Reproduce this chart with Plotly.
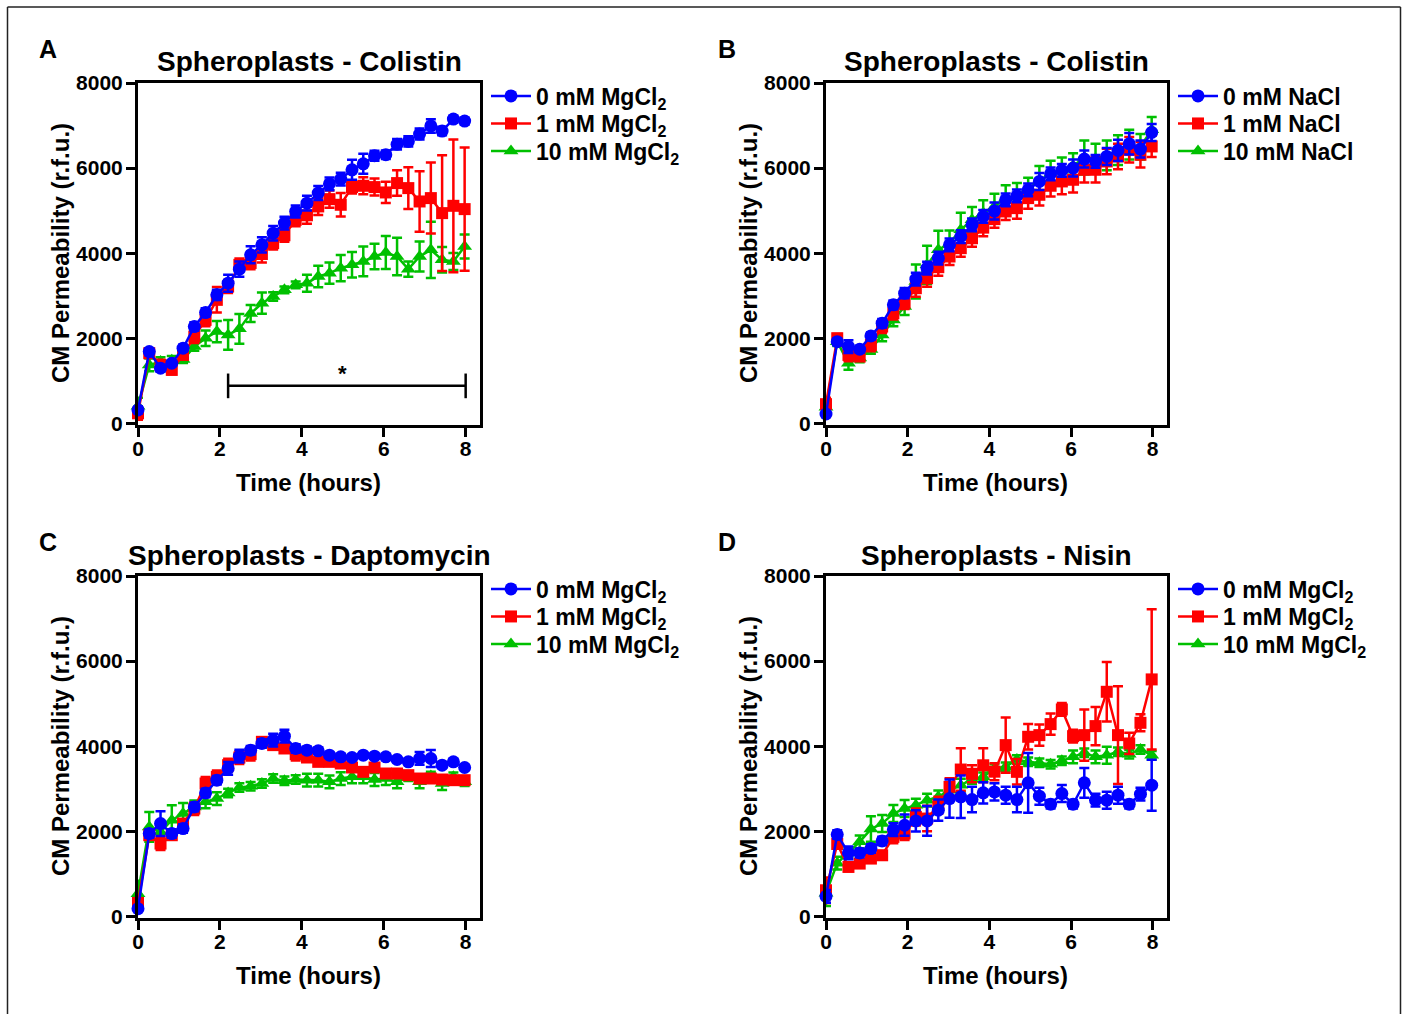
import plotly.graph_objects as go

W, H = 1404, 1014

# ---------------- data ----------------
time_h = [0, 0.275, 0.55, 0.825, 1.1, 1.375, 1.65, 1.925, 2.2, 2.475, 2.75, 3.025, 3.3, 3.575, 3.85,
          4.125, 4.4, 4.675, 4.95, 5.225, 5.5, 5.775, 6.05, 6.325, 6.6, 6.875, 7.15, 7.425, 7.7, 7.975]

# Panel A - Colistin, MgCl2
A_0 = [314, 1686, 1294, 1412, 1765, 2275, 2604, 3020, 3294, 3624, 3961, 4196, 4470, 4706, 4980,
       5176, 5412, 5631, 5741, 5960, 6100, 6290, 6314, 6560, 6627, 6800, 6990, 6870, 7153, 7105]
A_0_err = [80, 80, 80, 60, 80, 100, 100, 120, 200, 180, 200, 180, 170, 150, 140,
           175, 165, 150, 150, 235, 235, 120, 100, 125, 120, 130, 157, 100, 80, 80]
A_1 = [235, 1647, 1372, 1255, 1608, 2039, 2431, 2902, 3216, 3725, 3770, 3980, 4235, 4420, 4784,
       4890, 5098, 5270, 5137, 5553, 5584, 5553, 5427, 5647, 5529, 5215, 5294, 4941, 5113, 5035]
A_1_err = [150, 100, 120, 100, 100, 150, 150, 300, 150, 150, 150, 200, 150, 150, 150,
           200, 200, 200, 275, 150, 200, 200, 250, 300, 490, 713, 835, 1360, 1560, 1450]
A_10 = [400, 1372, 1450, 1480, 1500, 1803, 2000, 2157, 2078, 2220, 2580, 2823, 2980, 3137, 3255,
        3294, 3451, 3529, 3647, 3725, 3804, 3921, 4016, 3921, 3623, 3921, 4078, 3843, 3804, 4157]
A_10_err = [200, 150, 100, 100, 80, 100, 180, 250, 350, 350, 200, 250, 100, 80, 80,
            200, 250, 250, 310, 300, 350, 300, 390, 440, 180, 350, 660, 300, 200, 280]

# Panel B - Colistin, NaCl
B_0 = [219, 1920, 1803, 1741, 2054, 2353, 2784, 3059, 3388, 3647, 3882, 4195, 4391, 4666, 4862,
       4990, 5254, 5348, 5490, 5686, 5866, 5944, 6000, 6212, 6156, 6274, 6415, 6572, 6447, 6838]
B_0_err = [50, 80, 150, 80, 80, 100, 100, 120, 150, 150, 150, 150, 150, 150, 150,
           200, 150, 150, 150, 200, 150, 150, 200, 200, 150, 200, 250, 250, 200, 200]
B_1 = [450, 2000, 1607, 1568, 1843, 2274, 2588, 2839, 3176, 3411, 3670, 3921, 4117, 4350, 4600,
       4800, 4980, 5058, 5294, 5372, 5584, 5686, 5725, 5960, 5960, 6156, 6274, 6431, 6313, 6509]
B_1_err = [150, 100, 150, 100, 150, 150, 150, 150, 200, 200, 200, 200, 200, 200, 200,
           200, 200, 250, 250, 250, 250, 300, 300, 300, 300, 300, 300, 300, 300, 250]
B_10 = [380, 1920, 1411, 1537, 1733, 2078, 2431, 2745, 3333, 3725, 4078, 4235, 4548, 4784, 4941,
        5098, 5294, 5350, 5520, 5700, 5870, 5950, 6050, 6250, 6220, 6300, 6420, 6550, 6500, 6900]
B_10_err = [200, 100, 150, 100, 100, 150, 150, 200, 400, 450, 450, 300, 400, 300, 300,
            300, 300, 300, 250, 350, 300, 300, 300, 400, 350, 350, 350, 350, 300, 300]

# Panel C - Daptomycin, MgCl2
C_0 = [180, 1945, 2180, 1945, 2063, 2572, 2901, 3200, 3475, 3765, 3906, 4063, 4141, 4235, 3945,
       3906, 3890, 3788, 3749, 3733, 3788, 3765, 3749, 3686, 3631, 3710, 3710, 3553, 3631, 3498]
C_0_err = [50, 100, 290, 100, 100, 100, 100, 100, 150, 150, 100, 100, 150, 150, 100,
           80, 80, 60, 60, 60, 60, 60, 60, 60, 60, 150, 200, 60, 60, 60]
C_1 = [314, 1906, 1710, 1906, 2180, 2533, 3122, 3278, 3553, 3733, 3812, 4102, 4024, 3945, 3812,
       3733, 3631, 3631, 3592, 3498, 3396, 3498, 3357, 3357, 3318, 3239, 3239, 3216, 3200, 3200]
C_1_err = [100, 100, 150, 100, 100, 150, 150, 150, 150, 150, 150, 100, 100, 100, 150,
           100, 80, 80, 80, 80, 80, 80, 80, 80, 80, 80, 80, 80, 80, 80]
C_10 = [533, 2102, 1984, 2259, 2415, 2572, 2690, 2768, 2901, 3027, 3059, 3122, 3239, 3184, 3216,
        3200, 3200, 3161, 3239, 3278, 3278, 3216, 3239, 3161, 3278, 3161, 3300, 3122, 3278, 3161]
C_10_err = [300, 350, 250, 350, 250, 150, 150, 150, 100, 100, 100, 100, 100, 100, 100,
            150, 150, 150, 150, 150, 150, 150, 150, 150, 100, 150, 100, 150, 100, 100]

# Panel D - Nisin, MgCl2
D_0 = [470, 1922, 1490, 1490, 1592, 1772, 2039, 2141, 2243, 2243, 2494, 2768, 2808, 2745, 2902,
       2925, 2847, 2745, 3137, 2823, 2635, 2886, 2635, 3137, 2729, 2729, 2847, 2635, 2870, 3082]
D_0_err = [150, 100, 150, 100, 100, 100, 150, 250, 250, 350, 250, 450, 500, 300, 250,
           200, 200, 300, 700, 200, 100, 200, 100, 350, 150, 200, 200, 100, 150, 600]
D_1 = [612, 1700, 1161, 1239, 1357, 1435, 1867, 1945, 2337, 2298, 2612, 3043, 3450, 3350, 3550,
       3400, 4024, 3396, 4220, 4259, 4518, 4863, 4235, 4259, 4471, 5278, 4259, 4063, 4549, 5569]
D_1_err = [300, 100, 100, 80, 80, 100, 150, 150, 200, 300, 200, 200, 500, 200, 400,
           200, 650, 300, 300, 250, 250, 150, 150, 600, 450, 700, 1150, 250, 200, 1650]
D_10 = [540, 1250, 1500, 1750, 2050, 2180, 2415, 2533, 2612, 2729, 2808, 2965, 3082, 3216, 3278,
        3475, 3514, 3686, 3631, 3608, 3576, 3655, 3749, 3843, 3749, 3788, 3867, 3812, 3922, 3788]
D_10_err = [300, 150, 100, 150, 300, 200, 200, 200, 150, 150, 150, 150, 150, 100, 100,
            100, 100, 100, 100, 100, 100, 100, 150, 100, 150, 200, 100, 100, 100, 100]

mg_names = ["0 mM MgCl<sub>2</sub>", "1 mM MgCl<sub>2</sub>", "10 mM MgCl<sub>2</sub>"]
na_names = ["0 mM NaCl", "1 mM NaCl", "10 mM NaCl"]

x_ticks = [0, 2, 4, 6, 8]
y_ticks = [0, 2000, 4000, 6000, 8000]

# ---------------- styles ----------------
FONT = "Liberation Sans, Arial, sans-serif"
BLUE, RED, GREEN = "#0000FF", "#FF0000", "#00C000"

# pixel boxes of the four plot areas (left, right, top, bottom)
boxes = {
    "A": (138, 480, 83, 425),
    "B": (826, 1167, 83, 425),
    "C": (138, 480, 576, 918),
    "D": (826, 1167, 576, 918),
}

panels = [
    ("A", "Spheroplasts - Colistin", mg_names, (A_0, A_0_err), (A_1, A_1_err), (A_10, A_10_err)),
    ("B", "Spheroplasts - Colistin", na_names, (B_0, B_0_err), (B_1, B_1_err), (B_10, B_10_err)),
    ("C", "Spheroplasts - Daptomycin", mg_names, (C_0, C_0_err), (C_1, C_1_err), (C_10, C_10_err)),
    ("D", "Spheroplasts - Nisin", mg_names, (D_0, D_0_err), (D_1, D_1_err), (D_10, D_10_err)),
]

fig = go.Figure()
layout = dict(
    template="none",
    width=W, height=H, margin=dict(l=0, r=0, t=0, b=0, pad=0, autoexpand=False),
    paper_bgcolor="white", plot_bgcolor="white",
    font=dict(family=FONT, color="black"),
    showlegend=True,
)
annotations = []
shapes = []


def px(xp):
    return xp / W


def py(yp):
    return 1 - yp / H


leg_count = 0
for i, (letter, title, names, s0, s1, s10) in enumerate(panels):
    idx = i + 1
    xa = "x" if idx == 1 else f"x{idx}"
    ya = "y" if idx == 1 else f"y{idx}"
    l, r, t, b = boxes[letter]
    axis_common = dict(
        showline=True, linewidth=3, linecolor="black", mirror=True,
        ticks="outside", ticklen=9, tickwidth=3, tickcolor="black",
        showgrid=False, zeroline=False, automargin=False,
        tickfont=dict(family=FONT, size=21, color="black", weight="bold"),
    )
    layout["xaxis" if idx == 1 else f"xaxis{idx}"] = dict(
        axis_common, domain=[px(l), px(r)], range=[0, 8.35],
        tickvals=x_ticks, anchor=ya, ticklabelstandoff=-6,
    )
    layout["yaxis" if idx == 1 else f"yaxis{idx}"] = dict(
        axis_common, domain=[py(b), py(t)], range=[-40, 8000],
        tickvals=y_ticks, anchor=xa, ticklabelstandoff=-1,
    )
    series = [
        (s10, names[2], GREEN, "triangle-up", 13, 2),
        (s1, names[1], RED, "square", 12, 1),
        (s0, names[0], BLUE, "circle", 13, 0),
    ]
    for (vals, err), name, col, sym, size, row in series:
        leg_count += 1
        lg = "legend" if leg_count == 1 else f"legend{leg_count}"
        layout[lg] = dict(
            x=px(r + 6), y=py(t + 13 + 27.5 * row), xanchor="left", yanchor="middle",
            bgcolor="rgba(0,0,0,0)", borderwidth=0,
            font=dict(family=FONT, size=23, color="black", weight="bold"),
            itemwidth=40, tracegroupgap=0,
        )
        fig.add_trace(go.Scatter(
            x=time_h, y=vals, name=name, mode="lines+markers",
            xaxis=xa, yaxis=ya, legend=lg,
            line=dict(color=col, width=2.5),
            marker=dict(color=col, symbol=sym, size=size, line=dict(width=0)),
            error_y=dict(type="data", array=err, visible=True, color=col,
                         thickness=2.5, width=5),
            cliponaxis=False,
        ))
    cx = (l + r) / 2
    ty = 62 if letter in "AB" else 555
    annotations.append(dict(
        text=f"<b>{title}</b>", x=px(cx), y=py(ty), xref="paper", yref="paper",
        xanchor="center", yanchor="middle", showarrow=False,
        font=dict(family=FONT, size=28, color="black"),
    ))
    annotations.append(dict(
        text="<b>Time (hours)</b>", x=px(cx - 1), y=py(b + 57), xref="paper", yref="paper",
        xanchor="center", yanchor="middle", showarrow=False,
        font=dict(family=FONT, size=24, color="black"),
    ))
    annotations.append(dict(
        text="<b>CM Permeability (r.f.u.)</b>", x=px(l - 78), y=py((t + b) / 2 - 1),
        xref="paper", yref="paper", xanchor="center", yanchor="middle",
        showarrow=False, textangle=-90,
        font=dict(family=FONT, size=24, color="black"),
    ))
    lx = 48 if letter in "AC" else 727
    ly = 49 if letter in "AB" else 542
    annotations.append(dict(
        text=f"<b>{letter}</b>", x=px(lx), y=py(ly), xref="paper", yref="paper",
        xanchor="center", yanchor="middle", showarrow=False,
        font=dict(family=FONT, size=25, color="black"),
    ))

# significance bar in panel A
sig_x0, sig_x1, sig_y, sig_cap = 2.2, 8.0, 880, 290
shapes.append(dict(type="line", xref="x", yref="y", x0=sig_x0, x1=sig_x1, y0=sig_y, y1=sig_y,
                   line=dict(color="black", width=2.5)))
for xx in (sig_x0, sig_x1):
    shapes.append(dict(type="line", xref="x", yref="y", x0=xx, x1=xx,
                       y0=sig_y - sig_cap, y1=sig_y + sig_cap,
                       line=dict(color="black", width=2.5)))
annotations.append(dict(text="<b>*</b>", x=5.0, y=1160, xref="x", yref="y", showarrow=False,
                        xanchor="center", yanchor="middle",
                        font=dict(family=FONT, size=22, color="black")))

# outer frame of the figure (left, top, right)
for (x0, y0, x1, y1) in [(7.5, 7, 7.5, 1014), (7.5, 7, 1400.5, 7), (1400.5, 7, 1400.5, 1014)]:
    shapes.append(dict(type="line", xref="paper", yref="paper",
                       x0=px(x0), x1=px(x1), y0=py(y0), y1=py(y1),
                       line=dict(color="#222222", width=1.5)))

layout["annotations"] = annotations
layout["shapes"] = shapes
fig.update_layout(**layout)
fig.write_html(
    "out.html",
    config={"displayModeBar": False},
    post_script="document.body.style.margin='0';document.body.style.overflow='hidden';",
)
